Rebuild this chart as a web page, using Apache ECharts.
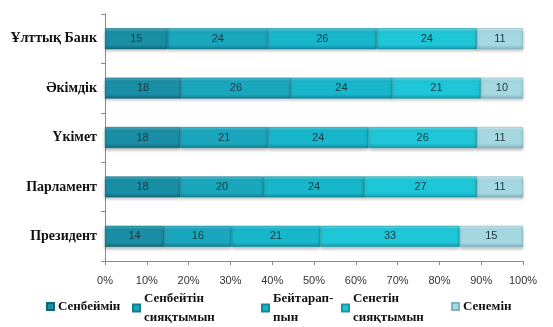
<!DOCTYPE html>
<html>
<head>
<meta charset="utf-8">
<script src="https://cdn.jsdelivr.net/npm/echarts@6/dist/echarts.min.js"></script>
<style>html,body{margin:0;padding:0;background:#fff}#c{width:553px;height:327px}</style>
</head>
<body>
<div id="c"></div>
<script>
const categories = ['Президент', 'Парламент', 'Үкімет', 'Әкімдік', 'Ұлттық Банк'];
const seriesNames = ['Сенбеймін', 'Сенбейтін\nсияқтымын', 'Бейтарап-\nпын', 'Сенетін\nсияқтымын', 'Сенемін'];
const sDistrust = [14, 18, 18, 18, 15];
const sRatherDistrust = [16, 20, 21, 26, 24];
const sNeutral = [21, 24, 24, 24, 26];
const sRatherTrust = [33, 27, 26, 21, 24];
const sTrust = [15, 11, 11, 10, 11];
const xTicks = ['0%', '10%', '20%', '30%', '40%', '50%', '60%', '70%', '80%', '90%', '100%'];

const allSeries = [sDistrust, sRatherDistrust, sNeutral, sRatherTrust, sTrust];
const baseColors = ['#1a8ea4', '#1aa6bd', '#17b6cb', '#1ec6d7', '#a6d8e2'];
const lightColors = ['#4fb4c6', '#52c6d8', '#55d2e2', '#66dde9', '#d2eef3'];
const darkColors = ['#0f6677', '#127d90', '#10899b', '#1497a6', '#7fb3bf'];
const totals = categories.map((c, i) => allSeries.reduce((s, arr) => s + arr[i], 0));

const chart = echarts.init(document.getElementById('c'));
const grad = (k) => new echarts.graphic.LinearGradient(0, 0, 0, 1, [
  {offset: 0, color: lightColors[k]},
  {offset: 0.18, color: baseColors[k]},
  {offset: 0.8, color: baseColors[k]},
  {offset: 1, color: darkColors[k]}
]);
const legendLefts = [46, 132, 261, 341, 451];
const legendTops = [297, 289, 289, 289, 297];
const legends = seriesNames.map((n, k) => ({
  data: [n],
  left: legendLefts[k],
  top: legendTops[k],
  padding: 0,
  icon: 'rect',
  itemWidth: 7,
  itemHeight: 7,
  itemGap: 4,
  selectedMode: false,
  textStyle: {fontFamily: 'Liberation Serif', fontWeight: 'bold', fontSize: 13, color: '#111', lineHeight: 19, padding: [0,0,0,-1]}
}));
const option = {
  animation: false,
  grid: {left: 105, right: 30, top: 14, bottom: 66},
  legend: legends,
  xAxis: {
    type: 'value', min: 0, max: 100, interval: 10,
    axisLine: {show: true, lineStyle: {color: '#8a8a8a'}},
    axisTick: {show: true, length: 4, lineStyle: {color: '#8a8a8a'}},
    splitLine: {show: false},
    axisLabel: {formatter: (v) => xTicks[Math.round(v / 10)], fontFamily: 'Liberation Sans', fontSize: 11, color: '#333', margin: 14}
  },
  yAxis: {
    type: 'category', data: categories,
    axisLine: {show: true, lineStyle: {color: '#8a8a8a'}},
    axisTick: {show: true, length: 4, lineStyle: {color: '#8a8a8a'}},
    axisLabel: {fontFamily: 'Liberation Serif', fontWeight: 'bold', fontSize: 14, color: '#111', margin: 8}
  },
  series: allSeries.map((arr, k) => ({
    name: seriesNames[k],
    type: 'bar',
    stack: 'all',
    barWidth: 21,
    data: arr.map((v, i) => ({value: v / totals[i] * 100, raw: v})),
    itemStyle: {color: grad(k), borderColor: darkColors[k], borderWidth: 0.6,
      shadowColor: 'rgba(0,0,0,0.25)', shadowOffsetY: 2, shadowBlur: 3},
    label: {show: true, position: 'inside', formatter: (p) => p.data.raw,
      fontFamily: 'Liberation Sans', fontSize: 11, color: '#1d3640'}
  }))
};
chart.setOption(option);
</script>
</body>
</html>
